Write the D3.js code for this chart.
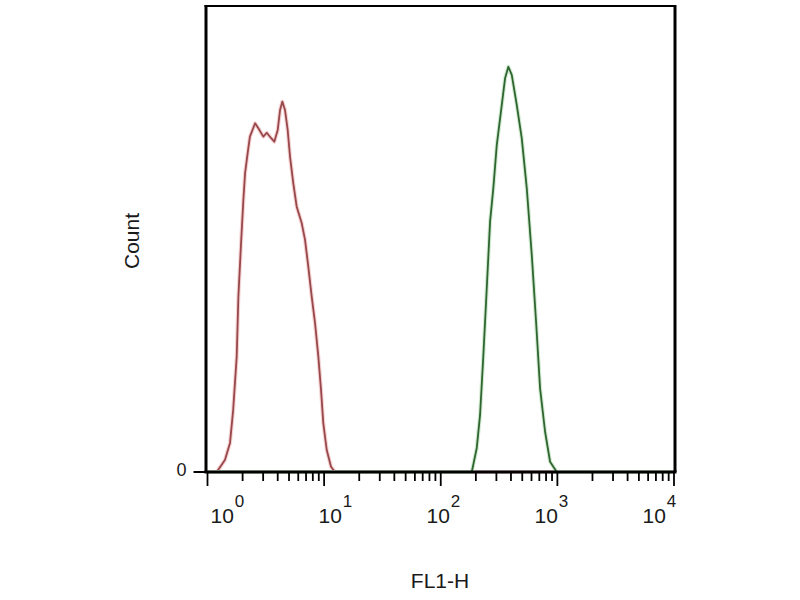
<!DOCTYPE html>
<html>
<head>
<meta charset="utf-8">
<script src="https://cdn.jsdelivr.net/npm/d3@7"></script>
<style>
  body { margin: 0; background: #fff; }
  svg { display: block; font-family: "Liberation Sans", Arial, sans-serif; }
</style>
</head>
<body>
<svg id="chart" width="800" height="600"></svg>
<script>
// histogram data (FL1-H, count)
var redX = [1, 1.2, 1.41, 1.56, 1.66, 1.78, 1.84, 1.94, 2.03, 2.1, 2.21, 2.31, 2.56, 2.73, 3.01, 3.22, 3.5, 3.74, 4.0, 4.19, 4.38, 4.62, 4.87, 5.1, 5.44, 5.82, 6.43, 6.86, 7.32, 7.83, 8.36, 8.92, 9.41, 9.84, 10.53, 11.46, 12.4, 10000];
var redY = [0, 0, 6.4, 15.6, 33.3, 61.9, 94.0, 122.9, 145.9, 160.4, 171.1, 179.9, 187.1, 184.4, 179.9, 182.0, 179.2, 177.2, 183.5, 194.2, 198.7, 194.2, 183.5, 169.2, 154.9, 142.3, 133.4, 124.5, 110.1, 94.0, 79.8, 61.9, 44.0, 26.1, 11.8, 2.8, 0, 0];

var greenX = [1, 184.5, 203.6, 217.3, 232.0, 248.1, 264.8, 282.5, 302.2, 333.7, 356.0, 379.9, 406.3, 448.5, 495.1, 546.6, 603.2, 656.7, 710.7, 784.6, 865.9, 988.3, 10000];
var greenY = [0, 0, 12.9, 30.6, 62.8, 98.7, 134.3, 152.4, 175.4, 196.9, 211.2, 217.4, 213.0, 196.9, 179.0, 152.2, 116.4, 80.6, 44.9, 21.6, 5.5, 0, 0];

var decades = [0, 1, 2, 3, 4];
var minorMult = [2, 3, 4, 5, 6, 7, 8, 9];

var svg = d3.select("#chart");

var x = d3.scaleLog().domain([1, 10000]).range([207.5, 674]);
var y = d3.scaleLinear().domain([0, 250]).range([472, 6]);
// the exponent labels sit a little off their ticks in the original
var labelX = d3.scaleLinear().domain([0, 4]).range([222.5, 654.5]);

var line = d3.line()
  .x(function(d) { return x(d[0]); })
  .y(function(d) { return y(d[1]); });

function drawCurve(xs, ys, halo, color) {
  var pts = d3.zip(xs, ys);
  svg.append("path").attr("d", line(pts))
    .attr("fill", "none").attr("stroke", halo).attr("stroke-width", 4)
    .attr("stroke-linejoin", "round");
  svg.append("path").attr("d", line(pts))
    .attr("fill", "none").attr("stroke", color).attr("stroke-width", 1.8)
    .attr("stroke-linejoin", "round");
}

drawCurve(redX, redY, "#f5d3d4", "#98484a");
drawCurve(greenX, greenY, "#d3ead3", "#2f6630");

// frame
var x0 = x.range()[0], x1 = x.range()[1], yb = y.range()[0], yt = y.range()[1];
svg.append("line").attr("x1", x0 - 1.5).attr("x2", x0 - 1.5).attr("y1", yt - 1).attr("y2", yb)
  .attr("stroke", "#000").attr("stroke-width", 3);
svg.append("line").attr("x1", x0 - 3).attr("x2", x1 + 1.5).attr("y1", yt).attr("y2", yt)
  .attr("stroke", "#000").attr("stroke-width", 2);
svg.append("line").attr("x1", x1 + 1).attr("x2", x1 + 1).attr("y1", yt - 1).attr("y2", yb)
  .attr("stroke", "#000").attr("stroke-width", 3);

// x axis with minor ticks
var ticks = [];
decades.forEach(function(k) {
  ticks.push({v: Math.pow(10, k), major: true});
  if (k < 4) minorMult.forEach(function(m) { ticks.push({v: m * Math.pow(10, k), major: false}); });
});
svg.selectAll(".xtick").data(ticks).enter().append("line")
  .attr("class", "xtick")
  .attr("x1", function(d) { return x(d.v); })
  .attr("x2", function(d) { return x(d.v); })
  .attr("y1", yb)
  .attr("y2", function(d) { return yb + (d.major ? 14 : 9); })
  .attr("stroke", "#000").attr("stroke-width", 1.8);

svg.append("line").attr("x1", x0 - 3).attr("x2", x1 + 2.5).attr("y1", yb).attr("y2", yb)
  .attr("stroke", "#000").attr("stroke-width", 3);

var lab = svg.selectAll(".xlab").data(decades).enter().append("text")
  .attr("class", "xlab")
  .attr("x", function(k) { return labelX(k) - 12; })
  .attr("y", 523)
  .attr("font-size", 21)
  .attr("fill", "#1a1a1a");
lab.append("tspan").text("10");
lab.append("tspan").attr("dy", -16).attr("font-size", 17).attr("dx", 1)
  .text(function(k) { return k; });

// y axis: only the zero tick
svg.append("line").attr("x1", x0 - 14).attr("x2", x0).attr("y1", y(0)).attr("y2", y(0))
  .attr("stroke", "#000").attr("stroke-width", 2);
svg.append("text").attr("x", x0 - 21).attr("y", y(0) + 4)
  .attr("text-anchor", "end").attr("font-size", 18).attr("fill", "#1a1a1a").text("0");

svg.append("text")
  .attr("transform", "translate(139,241) rotate(-90)")
  .attr("text-anchor", "middle").attr("font-size", 21).attr("fill", "#1a1a1a")
  .text("Count");

svg.append("text")
  .attr("x", 440).attr("y", 588)
  .attr("text-anchor", "middle").attr("font-size", 21).attr("fill", "#1a1a1a")
  .text("FL1-H");
</script>
</body>
</html>
